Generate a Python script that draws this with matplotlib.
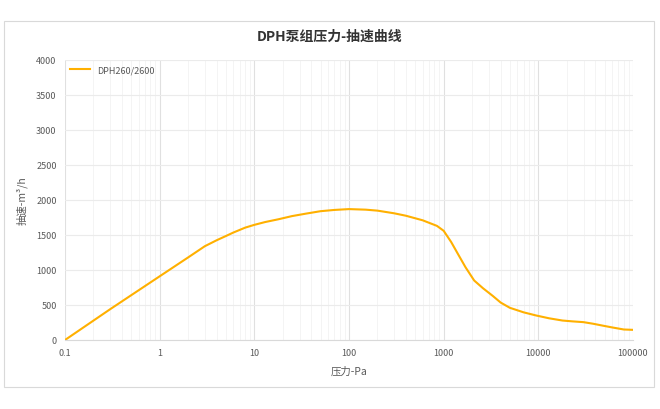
import numpy as np
import matplotlib.pyplot as plt
from matplotlib.patches import Rectangle
from matplotlib.ticker import FixedLocator, LogLocator, NullFormatter

plt.rcParams['font.family'] = ['Noto Sans CJK SC', 'DejaVu Sans']

# 压力 (Pa) / 抽速 (m3/h)
pressure = [0.1, 0.3, 1, 2, 3, 4, 5, 6, 8, 10, 13, 18, 25, 35, 50, 70, 100,
            150, 200, 300, 400, 600, 850, 1000, 1200, 1400, 1700, 2100, 2600,
            3300, 4000, 5000, 7000, 9500, 13000, 18000, 23000, 30000, 38000,
            48000, 60000, 80000, 100000]
speed = [0, 440, 910, 1180, 1340, 1425, 1485, 1535, 1605, 1645, 1685, 1725,
         1770, 1805, 1840, 1858, 1870, 1862, 1848, 1810, 1775, 1710, 1630,
         1560, 1400, 1240, 1040, 850, 740, 630, 535, 460, 395, 350, 310, 278,
         266, 255, 232, 205, 180, 150, 145]
series_name = 'DPH260/2600'
title = 'DPH泵组压力-抽速曲线'
xlabel = '压力-Pa'
ylabel = '抽速-m³/h'
xticks = [0.1, 1, 10, 100, 1000, 10000, 100000]
xticklabels = ['0.1', '1', '10', '100', '1000', '10000', '100000']
yticks = list(range(0, 4001, 500))

fig = plt.figure(figsize=(6.6, 4.1), dpi=100)
fig.patches.append(Rectangle((4/660, 1-388/410), 650/660, 366/410,
                             transform=fig.transFigure, fill=False,
                             edgecolor='#D9D9D9', linewidth=0.8))
ax = fig.add_axes([65/660, 1-341/410, 568/660, 280/410])

ax.plot(pressure, speed, color='#FFB000', linewidth=1.5, label=series_name,
        solid_joinstyle='round')
ax.set_xscale('log')
ax.set_xlim(0.1, 100000)
ax.set_ylim(0, 4000)
ax.xaxis.set_major_locator(FixedLocator(xticks))
ax.set_xticklabels(xticklabels)
ax.xaxis.set_minor_locator(LogLocator(base=10, subs=np.arange(2, 10), numticks=20))
ax.xaxis.set_minor_formatter(NullFormatter())
ax.set_yticks(yticks)

ax.grid(True, which='major', axis='x', color='#E0E0E0', linewidth=0.8)
ax.grid(True, which='major', axis='y', color='#EBEBEB', linewidth=0.8)
ax.grid(True, which='minor', axis='x', color='#F2F2F2', linewidth=0.6)
ax.set_axisbelow(True)
for s in ['top', 'right', 'left']:
    ax.spines[s].set_visible(False)
ax.spines['bottom'].set_color('#D9D9D9')
ax.tick_params(which='both', length=0, labelsize=6.5, labelcolor='#595959', pad=6)

ax.set_xlabel(xlabel, fontsize=7.5, color='#595959', labelpad=6)
ax.set_ylabel(ylabel, fontsize=7.5, color='#595959', labelpad=6)
fig.text(0.5, 1-37/410, title, ha='center', va='center', fontsize=10,
         fontweight='bold', color='#333333')
ax.legend(loc='upper left', frameon=False, fontsize=6.5, handlelength=2.2,
          borderaxespad=0.2, labelcolor='#595959')

fig.savefig('out.png', dpi=100)
